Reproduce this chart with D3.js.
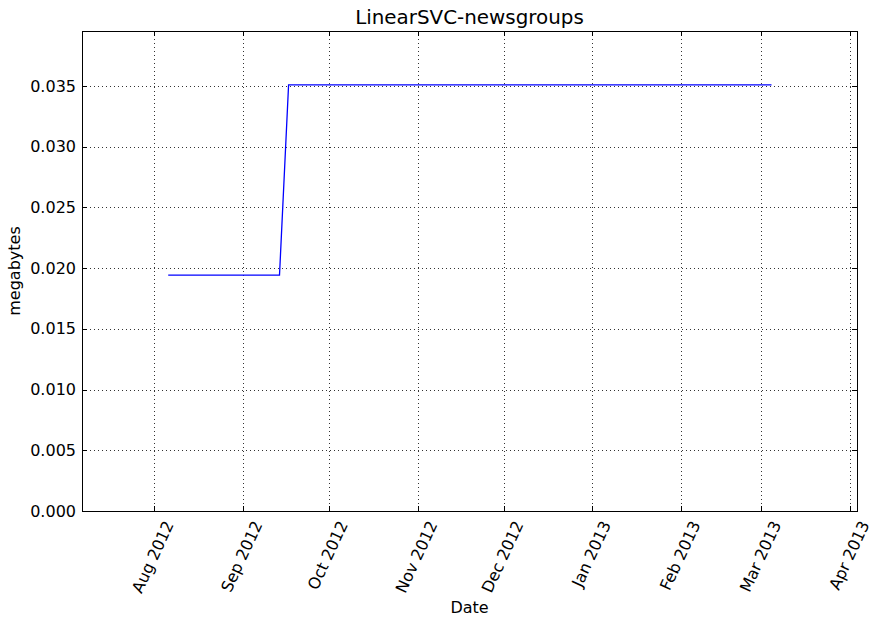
<!DOCTYPE html>
<html>
<head>
<meta charset="utf-8">
<script src="https://cdn.jsdelivr.net/npm/d3@7"></script>
<style>
  body { margin: 0; background: #fff; }
  text { font-family: "DejaVu Sans", sans-serif; fill: #000; }
</style>
</head>
<body>
<div id="chart"></div>
<script>
const title = 'LinearSVC-newsgroups';
const dates = ['2012-08-06T00:00', '2012-09-13T20:00', '2012-09-17T00:00', '2013-03-04T12:00'];
const megabytes = [0.01943, 0.01943, 0.03510, 0.03510];
const xDomain = ['2012-07-06T22:00', '2013-04-03T08:00'];
const yTicks = [0, 0.005, 0.01, 0.015, 0.02, 0.025, 0.03, 0.035];
const yMax = 0.03953;

const W = 883, H = 624;
const m = { top: 31, right: 26, bottom: 113, left: 82 };
const parse = d3.timeParse('%Y-%m-%dT%H:%M');

const svg = d3.select('#chart').append('svg')
  .attr('width', W).attr('height', H);

const x = d3.scaleTime().domain(xDomain.map(parse)).range([m.left, W - m.right]);
const y = d3.scaleLinear().domain([0, yMax]).range([H - m.bottom, m.top]);
const xTicks = d3.timeMonth.range(d3.timeMonth.ceil(x.domain()[0]), x.domain()[1]);

// grid
const grid = svg.append('g').attr('stroke', '#333').attr('stroke-width', 1)
  .attr('stroke-dasharray', '1,3');
grid.selectAll('.gx').data(xTicks).join('line')
  .attr('x1', d => Math.round(x(d)) + 0.5).attr('x2', d => Math.round(x(d)) + 0.5)
  .attr('y1', m.top).attr('y2', H - m.bottom);
grid.selectAll('.gy').data(yTicks).join('line')
  .attr('y1', d => Math.round(y(d)) + 0.5).attr('y2', d => Math.round(y(d)) + 0.5)
  .attr('x1', m.left).attr('x2', W - m.right);

// series
const line = d3.line().x((d, i) => x(parse(dates[i]))).y(d => y(d));
svg.append('path').datum(megabytes)
  .attr('d', line).attr('fill', 'none')
  .attr('stroke', '#0000ff').attr('stroke-width', 1.3);

// ticks, inward on all four sides
const tk = 5;
const ticks = svg.append('g').attr('stroke', '#000').attr('stroke-width', 1);
xTicks.forEach(d => {
  const px = Math.round(x(d)) + 0.5;
  ticks.append('line').attr('x1', px).attr('x2', px).attr('y1', H - m.bottom).attr('y2', H - m.bottom - tk);
  ticks.append('line').attr('x1', px).attr('x2', px).attr('y1', m.top).attr('y2', m.top + tk);
});
yTicks.forEach(d => {
  const py = Math.round(y(d)) + 0.5;
  ticks.append('line').attr('y1', py).attr('y2', py).attr('x1', m.left).attr('x2', m.left + tk);
  ticks.append('line').attr('y1', py).attr('y2', py).attr('x1', W - m.right).attr('x2', W - m.right - tk);
});

// frame
svg.append('rect')
  .attr('x', m.left + 0.5).attr('y', m.top + 0.5)
  .attr('width', W - m.left - m.right).attr('height', H - m.top - m.bottom)
  .attr('fill', 'none').attr('stroke', '#000').attr('stroke-width', 1);

// y tick labels
svg.append('g').selectAll('text').data(yTicks).join('text')
  .attr('x', m.left - 6).attr('y', d => y(d))
  .attr('dy', '0.35em').attr('text-anchor', 'end')
  .style('font-size', '16px')
  .text(d3.format('.3f'));

// x tick labels, rotated 65deg, bbox centred on tick
const fmt = d3.timeFormat('%b %Y');
const rad = 65 * Math.PI / 180;
svg.append('g').selectAll('text').data(xTicks).join('text')
  .attr('text-anchor', 'end').attr('dominant-baseline', 'central')
  .style('font-size', '16px')
  .text(fmt)
  .attr('transform', function (d) {
    const L = this.getComputedTextLength();
    const ax = x(d) + L / 2 * Math.cos(rad) - 1;
    return `translate(${ax},${H - m.bottom + 11}) rotate(-65)`;
  });

// labels
svg.append('text').attr('x', (m.left + W - m.right) / 2).attr('y', 24)
  .attr('text-anchor', 'middle').style('font-size', '19.9px').text(title);
svg.append('text').attr('x', (m.left + W - m.right) / 2).attr('y', 613)
  .attr('text-anchor', 'middle').style('font-size', '16px').text('Date');
svg.append('text')
  .attr('transform', `translate(20,${(m.top + H - m.bottom) / 2}) rotate(-90)`)
  .attr('text-anchor', 'middle').style('font-size', '16px').text('megabytes');
</script>
</body>
</html>
